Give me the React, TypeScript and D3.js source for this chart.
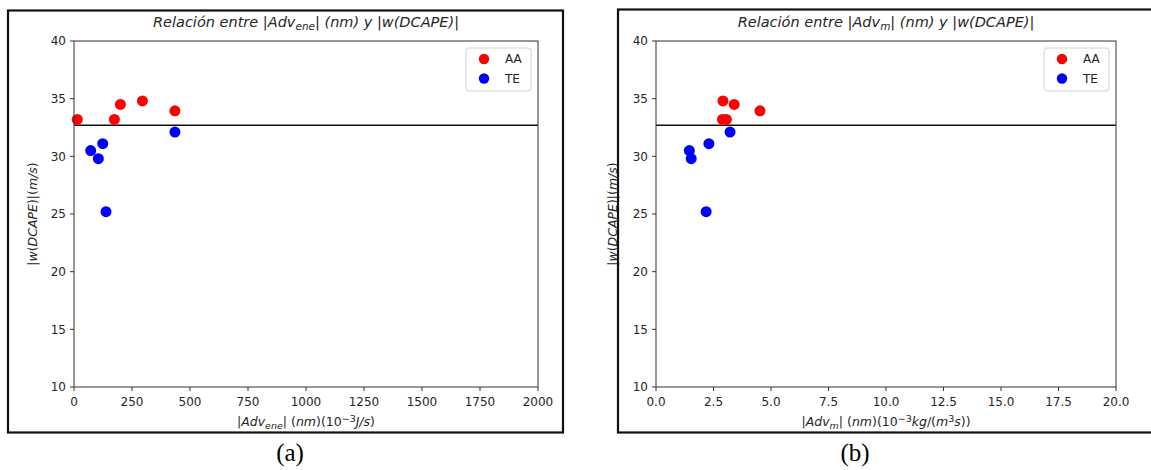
import React from "react";
import * as d3 from "d3";

// ---------- data ----------
const yTicks = [10, 15, 20, 25, 30, 35, 40];
const xTicksA = [0, 250, 500, 750, 1000, 1250, 1500, 1750, 2000];
const xTicksB = [0, 2.5, 5, 7.5, 10, 12.5, 15, 17.5, 20];

// Panel (a): |Adv_ene| vs |w(DCAPE)|
const aaEneX = [14, 174, 200, 295, 435];
const aaEneY = [33.2, 33.2, 34.5, 34.8, 33.95];
const teEneX = [72, 105, 124, 138, 435];
const teEneY = [30.5, 29.8, 31.1, 25.2, 32.1];

// Panel (b): |Adv_m| vs |w(DCAPE)|
const aaMX = [2.91, 3.4, 4.52, 2.89, 3.06];
const aaMY = [34.8, 34.5, 33.95, 33.2, 33.2];
const teMX = [1.45, 1.53, 2.3, 3.22, 2.18];
const teMY = [30.5, 29.8, 31.1, 32.1, 25.2];

const thresholdY = 32.7;
const seriesNames = ["AA", "TE"];
const seriesColors = ["#ff0000", "#0000ff"];

const FONT = "'DejaVu Sans', Verdana, sans-serif";
const TXT = "#262626";

type PanelProps = {
  x0: number;
  x1: number;
  y0: number;
  y1: number;
  xDomain: [number, number];
  xTicks: number[];
  xFmt: (v: number) => string;
  series: { xs: number[]; ys: number[]; color: string }[];
  title: React.ReactNode;
  xlabel: React.ReactNode;
  ylabelX: number;
};

function Panel(p: PanelProps) {
  const x = d3.scaleLinear().domain(p.xDomain).range([p.x0, p.x1]);
  const y = d3.scaleLinear().domain([10, 40]).range([p.y1, p.y0]);
  const cx = (p.x0 + p.x1) / 2;
  const cy = (p.y0 + p.y1) / 2;
  const lgX = p.x1 - 72;
  const lgY = p.y0 + 7;
  return (
    <g>
      <line x1={p.x0} x2={p.x1} y1={y(thresholdY)} y2={y(thresholdY)} stroke="#111" strokeWidth={1.6} />
      {p.series.map((s, si) =>
        s.xs.map((xv, i) => (
          <circle key={si + "-" + i} cx={x(xv)} cy={y(s.ys[i])} r={5.5} fill={s.color} />
        ))
      )}
      <rect x={p.x0} y={p.y0} width={p.x1 - p.x0} height={p.y1 - p.y0} fill="none" stroke="#333" strokeWidth={1} />
      {yTicks.map((t) => (
        <g key={"y" + t}>
          <line x1={p.x0 - 4} x2={p.x0} y1={y(t)} y2={y(t)} stroke="#333" />
          <text x={p.x0 - 8} y={y(t)} dy="0.36em" textAnchor="end" fontSize={12} fill={TXT} fontFamily={FONT}>
            {t}
          </text>
        </g>
      ))}
      {p.xTicks.map((t) => (
        <g key={"x" + t}>
          <line x1={x(t)} x2={x(t)} y1={p.y1} y2={p.y1 + 4} stroke="#333" />
          <text x={x(t)} y={p.y1 + 19} textAnchor="middle" fontSize={12} fill={TXT} fontFamily={FONT}>
            {p.xFmt(t)}
          </text>
        </g>
      ))}
      <text x={cx} y={p.y0 - 14} textAnchor="middle" fontSize={14.5} fill={TXT} fontFamily={FONT}>
        {p.title}
      </text>
      <text x={cx} y={p.y1 + 39} textAnchor="middle" fontSize={12.5} fill={TXT} fontFamily={FONT}>
        {p.xlabel}
      </text>
      <text
        transform={`translate(${p.ylabelX},${cy}) rotate(-90)`}
        textAnchor="middle"
        fontSize={12.5}
        fill={TXT}
        fontFamily={FONT}
      >
        <tspan>|</tspan>
        <tspan fontStyle="italic">w</tspan>
        <tspan>(</tspan>
        <tspan fontStyle="italic">DCAPE</tspan>
        <tspan>)|(</tspan>
        <tspan fontStyle="italic">m/s</tspan>
        <tspan>)</tspan>
      </text>
      <rect x={lgX} y={lgY} width={65} height={43} rx={3} fill="white" fillOpacity={0.85} stroke="#d0d0d0" strokeWidth={1} />
      {seriesNames.map((n, i) => (
        <g key={n}>
          <circle cx={lgX + 18} cy={lgY + 11 + i * 19.5} r={5.2} fill={seriesColors[i]} />
          <text x={lgX + 39} y={lgY + 11 + i * 19.5} dy="0.36em" fontSize={12} fill={TXT} fontFamily={FONT}>
            {n}
          </text>
        </g>
      ))}
    </g>
  );
}

export default function App() {
  const W = 1151;
  const H = 470;
  return (
    <svg width={W} height={H} style={{ position: "fixed", left: 0, top: 0, background: "white" }}>
      <rect x={0} y={0} width={W} height={H} fill="white" />
      <rect x={8} y={10.5} width={555} height={422} fill="none" stroke="#111" strokeWidth={2.2} />
      <rect x={618} y={9.5} width={545} height={423} fill="none" stroke="#111" strokeWidth={2.2} />

      <Panel
        x0={74}
        x1={538}
        y0={41}
        y1={387}
        xDomain={[0, 2000]}
        xTicks={xTicksA}
        xFmt={(v) => d3.format("d")(v)}
        series={[
          { xs: aaEneX, ys: aaEneY, color: seriesColors[0] },
          { xs: teEneX, ys: teEneY, color: seriesColors[1] },
        ]}
        title={
          <>
            <tspan fontStyle="italic">Relación entre |Adv</tspan>
            <tspan fontStyle="italic" fontSize={10.5} dy={3}>ene</tspan>
            <tspan fontStyle="italic" dy={-3}>| (nm) y |w(DCAPE)|</tspan>
          </>
        }
        xlabel={
          <>
            <tspan>|</tspan>
            <tspan fontStyle="italic">Adv</tspan>
            <tspan fontStyle="italic" fontSize={9.5} dy={3}>ene</tspan>
            <tspan dy={-3}>| (</tspan>
            <tspan fontStyle="italic">nm</tspan>
            <tspan>)(10</tspan>
            <tspan fontSize={9.5} dy={-4.5}>−3</tspan>
            <tspan fontStyle="italic" dy={4.5}>J/s</tspan>
            <tspan>)</tspan>
          </>
        }
        ylabelX={37}
      />

      <Panel
        x0={656}
        x1={1116}
        y0={41}
        y1={387}
        xDomain={[0, 20]}
        xTicks={xTicksB}
        xFmt={(v) => d3.format(".1f")(v)}
        series={[
          { xs: aaMX, ys: aaMY, color: seriesColors[0] },
          { xs: teMX, ys: teMY, color: seriesColors[1] },
        ]}
        title={
          <>
            <tspan fontStyle="italic">Relación entre |Adv</tspan>
            <tspan fontStyle="italic" fontSize={10.5} dy={3}>m</tspan>
            <tspan fontStyle="italic" dy={-3}>| (nm) y |w(DCAPE)|</tspan>
          </>
        }
        xlabel={
          <>
            <tspan>|</tspan>
            <tspan fontStyle="italic">Adv</tspan>
            <tspan fontStyle="italic" fontSize={9.5} dy={3}>m</tspan>
            <tspan dy={-3}>| (</tspan>
            <tspan fontStyle="italic">nm</tspan>
            <tspan>)(10</tspan>
            <tspan fontSize={9.5} dy={-4.5}>−3</tspan>
            <tspan fontStyle="italic" dy={4.5}>kg</tspan>
            <tspan>/(</tspan>
            <tspan fontStyle="italic">m</tspan>
            <tspan fontSize={9.5} dy={-4.5}>3</tspan>
            <tspan fontStyle="italic" dy={4.5}>s</tspan>
            <tspan>))</tspan>
          </>
        }
        ylabelX={617}
      />

      <text x={290} y={461} textAnchor="middle" fontSize={25} fill="#000" fontFamily="'Liberation Serif', 'Times New Roman', serif">
        (a)
      </text>
      <text x={855} y={461} textAnchor="middle" fontSize={25} fill="#000" fontFamily="'Liberation Serif', 'Times New Roman', serif">
        (b)
      </text>
    </svg>
  );
}
